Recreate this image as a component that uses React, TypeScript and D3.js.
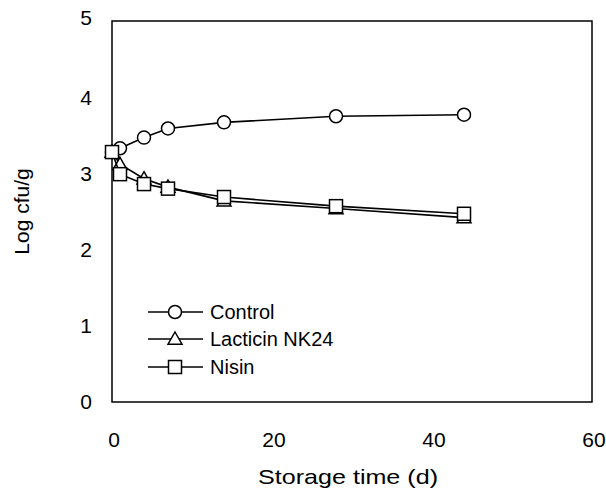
import React from 'react';
import * as d3 from 'd3';

// storage time (days)
const days = [0, 1, 4, 7, 14, 28, 44];
const control = [3.28, 3.33, 3.47, 3.59, 3.67, 3.75, 3.77];
const lacticin = [3.28, 3.12, 2.93, 2.82, 2.64, 2.54, 2.42];
const nisin = [3.28, 2.99, 2.86, 2.8, 2.69, 2.57, 2.47];
const xTicks = [0, 20, 40, 60];
const yTicks = [0, 1, 2, 3, 4, 5];
const seriesNames = ['Control', 'Lacticin NK24', 'Nisin'];

const width = 606;
const height = 497;
const margin = { top: 21, right: 14, bottom: 95, left: 112 };
const font = 'Liberation Sans, Arial, sans-serif';

const Marker = ({ kind, x, y }: { kind: string; x: number; y: number }) => {
  if (kind === 'circle') {
    return <circle cx={x} cy={y} r={6.5} fill="#fff" stroke="#000" strokeWidth={1.5} />;
  }
  if (kind === 'triangle') {
    const s = 7;
    return (
      <path
        d={`M${x},${y - s} L${x + s},${y + s * 0.75} L${x - s},${y + s * 0.75} Z`}
        fill="#fff"
        stroke="#000"
        strokeWidth={1.5}
      />
    );
  }
  return <rect x={x - 6.5} y={y - 6.5} width={13} height={13} fill="#fff" stroke="#000" strokeWidth={1.5} />;
};

const App = () => {
  const x = d3.scaleLinear().domain([0, 60]).range([margin.left, width - margin.right]);
  const y = d3.scaleLinear().domain([0, 5]).range([height - margin.bottom, margin.top]);

  const line = d3
    .line<[number, number]>()
    .x((d) => x(d[0]))
    .y((d) => y(d[1]));

  const series = [
    { name: seriesNames[0], values: control, kind: 'circle' },
    { name: seriesNames[1], values: lacticin, kind: 'triangle' },
    { name: seriesNames[2], values: nisin, kind: 'square' },
  ];

  const legendY = [312, 339, 367];

  return (
    <svg
      width={width}
      height={height}
      style={{ position: 'absolute', left: 0, top: 0, background: '#fff' }}
      fontFamily={font}
    >
      <rect x={0} y={0} width={width} height={height} fill="#fff" />
      {/* frame, no tick marks */}
      <rect
        x={x(0)}
        y={y(5)}
        width={x(60) - x(0)}
        height={y(0) - y(5)}
        fill="none"
        stroke="#000"
        strokeWidth={1.5}
      />
      {yTicks.map((t) => (
        <text key={t} x={86} y={y(t) - (t === 5 ? 3 : 0)} dy="0.35em" textAnchor="middle" fontSize={21}>
          {t}
        </text>
      ))}
      {xTicks.map((t) => (
        <text key={t} x={x(t) + 2} y={440} dy="0.35em" textAnchor="middle" fontSize={21}>
          {t}
        </text>
      ))}
      <text
        x={348}
        y={477}
        dy="0.35em"
        textAnchor="middle"
        fontSize={21}
        textLength={180}
        lengthAdjust="spacingAndGlyphs"
      >
        Storage time (d)
      </text>
      <text
        transform={`translate(22,${(y(0) + y(5)) / 2}) rotate(-90)`}
        dy="0.35em"
        textAnchor="middle"
        fontSize={21}
      >
        Log cfu/g
      </text>

      {series.map((s) => (
        <g key={s.name}>
          <path
            d={line(days.map((d, i) => [d, s.values[i]] as [number, number])) || ''}
            fill="none"
            stroke="#000"
            strokeWidth={1.6}
          />
          {days.map((d, i) => (
            <Marker key={i} kind={s.kind} x={x(d)} y={y(s.values[i])} />
          ))}
        </g>
      ))}

      {/* legend */}
      {series.map((s, i) => (
        <g key={'lg' + s.name}>
          <line x1={148} x2={203} y1={legendY[i]} y2={legendY[i]} stroke="#000" strokeWidth={1.5} />
          <Marker kind={s.kind} x={175} y={legendY[i]} />
          <text x={210} y={legendY[i]} dy="0.35em" fontSize={20}>
            {s.name}
          </text>
        </g>
      ))}
    </svg>
  );
};

export default App;
